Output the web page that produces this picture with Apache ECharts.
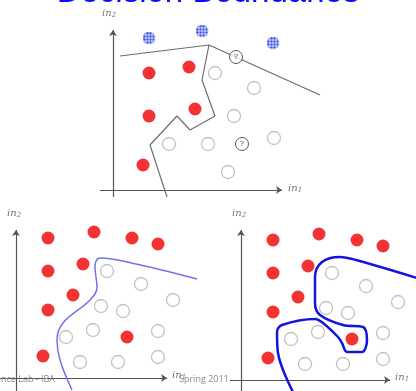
<!DOCTYPE html>
<html>
<head>
<meta charset="utf-8">
<script src="https://cdn.jsdelivr.net/npm/echarts@6/dist/echarts.min.js"></script>
<style>
  html, body { margin: 0; padding: 0; background: #fff; }
  #main { width: 416px; height: 391px; }
</style>
</head>
<body>
<div id="main"></div>
<script>
  // top panel: two classes + unknown points, piecewise linear boundaries
  var topRed = [[3.6, 11.7], [7.6, 12.3], [3.6, 7.4], [8.2, 8.1], [3.0, 2.5]]
  var topEmpty = [[10.2, 11.7], [14.1, 10.2], [12.1, 7.4], [5.6, 4.6], [9.5, 4.6], [16.1, 5.2], [11.5, 1.8]]
  var topBlue = [[3.6, 15.2], [8.9, 15.9], [16.0, 14.7]]
  var topUnknown = [[12.3, 13.3], [12.9, 4.6]]
  var topLineA = [[0.7, 13.4], [9.6, 14.5], [20.7, 9.5]]
  var topLineB = [[9.6, 14.5], [8.9, 11.0], [10.2, 7.4], [7.7, 6.0], [6.4, 7.4], [3.7, 4.5], [5.4, -0.7]]

  // bottom panels share the same points
  var botRed = [[3.2, 14.0], [7.8, 14.6], [11.6, 14.0], [14.2, 13.4], [3.2, 10.7], [6.7, 11.4], [5.7, 8.3], [3.2, 6.8], [11.1, 4.1], [2.7, 2.2]]
  var botEmpty = [[9.1, 10.7], [12.5, 9.4], [15.7, 7.8], [8.5, 7.2], [10.7, 6.7], [5.0, 4.1], [7.7, 4.8], [14.2, 4.7], [6.4, 1.6], [10.2, 1.6], [14.2, 2.1]]
  // smooth boundary (left) and overfitted boundary (right)
  var curveSmooth = [[18.1, 9.9], [12.0, 11.4], [8.4, 12.0], [7.9, 11.1], [8.1, 9.1], [7.4, 7.8], [4.7, 5.5], [4.1, 3.8], [4.4, 1.8], [5.6, -1.2]]
  var curveOverfit = [[17.6, 10.2], [11.5, 12.0], [9.9, 12.3], [8.1, 11.8], [7.4, 10.3], [7.4, 7.7], [7.9, 6.5], [10.2, 5.5], [12.2, 5.3], [12.6, 4.0], [12.1, 2.8], [10.6, 2.8], [10.1, 3.7], [9.7, 4.3], [8.2, 5.7], [7.4, 6.1], [4.1, 5.5], [3.6, 4.8], [3.7, 2.7], [5.2, -1.2]]

  // axis segments [start, end] per panel
  var axesTop = [[[-1.3, 0], [16.9, 0]], [[0, -0.7], [0, 16.0]]]
  var axesLeft = [[[-1.6, 0], [15.1, 0]], [[0, -1.3], [0, 14.8]]]
  var axesRight = [[[-1.1, 0], [14.9, 0]], [[0, -1.1], [0, 15.0]]]

  var myChart = echarts.init(document.getElementById('main'))

  // checkered blue marker, drawn once into an image
  var pat = document.createElement('canvas')
  pat.width = 26
  pat.height = 26
  var ctx = pat.getContext('2d')
  ctx.beginPath()
  ctx.arc(13, 13, 12.5, 0, Math.PI * 2)
  ctx.fillStyle = '#0018e0'
  ctx.fill()
  ctx.save()
  ctx.clip()
  ctx.fillStyle = '#ffffff'
  for (var k = 6; k < 26; k += 6) {
    ctx.fillRect(k, 0, 1.5, 26)
    ctx.fillRect(0, k, 26, 1.5)
  }
  ctx.restore()
  var blueSymbol = 'image://' + pat.toDataURL()

  function axes(idx, segs) {
    return {
      type: 'lines',
      coordinateSystem: 'cartesian2d',
      xAxisIndex: idx,
      yAxisIndex: idx,
      symbol: ['none', 'arrow'],
      symbolSize: 6,
      lineStyle: { color: '#555', width: 1.2, opacity: 1 },
      z: 1,
      data: segs.map(function (s) { return { coords: s } })
    }
  }
  function red(idx, data) {
    return {
      type: 'scatter', xAxisIndex: idx, yAxisIndex: idx,
      symbolSize: 13,
      itemStyle: { color: '#f00000' },
      z: 3, data: data
    }
  }
  function empty(idx, data) {
    return {
      type: 'scatter', xAxisIndex: idx, yAxisIndex: idx,
      symbolSize: 13,
      itemStyle: { color: '#fff', borderColor: '#b4b4b4', borderWidth: 1.3 },
      z: 3, data: data
    }
  }
  function curve(idx, data, color, width, smooth) {
    return {
      type: 'line', xAxisIndex: idx, yAxisIndex: idx,
      symbol: 'none', smooth: smooth,
      lineStyle: { color: color, width: width },
      z: 2, data: data
    }
  }

  function axisLabel(x, y, sub) {
    return {
      type: 'text', left: x, top: y, z: 10,
      style: {
        text: '{a|in}{b|' + sub + '}',
        rich: {
          a: { fontFamily: 'DejaVu Serif', fontStyle: 'italic', fontSize: 10, fill: '#777' },
          b: { fontFamily: 'DejaVu Serif', fontStyle: 'italic', fontSize: 7, fill: '#777', padding: [5, 0, 0, 0] }
        }
      }
    }
  }

  var option = {
    backgroundColor: '#fff',
    animation: false,
    grid: [
      { left: 95, top: 20, width: 240, height: 180 },
      { left: 0, top: 205, width: 200, height: 186 },
      { left: 225, top: 205, width: 191, height: 186 }
    ],
    xAxis: [
      { type: 'value', gridIndex: 0, min: -1.8, max: 22.2, show: false },
      { type: 'value', gridIndex: 1, min: -1.6, max: 18.4, show: false },
      { type: 'value', gridIndex: 2, min: -1.6, max: 17.5, show: false }
    ],
    yAxis: [
      { type: 'value', gridIndex: 0, min: -1, max: 17, show: false },
      { type: 'value', gridIndex: 1, min: -1.3, max: 17.3, show: false },
      { type: 'value', gridIndex: 2, min: -1.1, max: 17.5, show: false }
    ],
    graphic: [
      {
        type: 'text', x: 208, y: 9, z: 10,
        style: {
          text: 'Decision Boundaries', fontFamily: 'Liberation Sans', fontSize: 33, fill: '#0a0aff',
          align: 'center', verticalAlign: 'bottom'
        }
      },
      axisLabel(102, 8, 2),
      axisLabel(288, 183, 1),
      axisLabel(7, 208, 2),
      axisLabel(172, 370, 1),
      axisLabel(232, 208, 2),
      axisLabel(395, 372, 1),
      {
        type: 'text', x: 55, y: 379, z: 11,
        style: {
          text: 'Intelligence Lab - IBA', fontFamily: 'Open Sans', fontSize: 9, fill: '#8a8a8a',
          align: 'right', verticalAlign: 'middle'
        }
      },
      {
        type: 'text', x: 179, y: 379, z: 11,
        style: {
          text: 'Spring 2011', fontFamily: 'Open Sans', fontSize: 9, fill: '#8a8a8a',
          align: 'left', verticalAlign: 'middle'
        }
      }
    ],
    series: [
      axes(0, axesTop),
      curve(0, topLineA, '#6e6e6e', 1.2, false),
      curve(0, topLineB, '#6e6e6e', 1.2, false),
      red(0, topRed),
      empty(0, topEmpty),
      {
        type: 'scatter', xAxisIndex: 0, yAxisIndex: 0,
        symbol: blueSymbol,
        symbolSize: 13,
        z: 3, data: topBlue
      },
      {
        type: 'scatter', xAxisIndex: 0, yAxisIndex: 0,
        symbolSize: 13,
        itemStyle: { color: '#fff', borderColor: '#333', borderWidth: 1 },
        label: { show: true, position: 'inside', formatter: '?', fontFamily: 'DejaVu Serif', fontSize: 8, color: '#222' },
        z: 4, data: topUnknown
      },

      axes(1, axesLeft),
      curve(1, curveSmooth, '#7272f0', 1.5, 0.4),
      red(1, botRed),
      empty(1, botEmpty),

      axes(2, axesRight),
      curve(2, curveOverfit, '#1414dc', 2.5, 0.35),
      red(2, botRed),
      empty(2, botEmpty)
    ]
  }

  myChart.setOption(option)
  window.addEventListener('resize', function () {
    myChart.resize()
  })
</script>
</body>
</html>
